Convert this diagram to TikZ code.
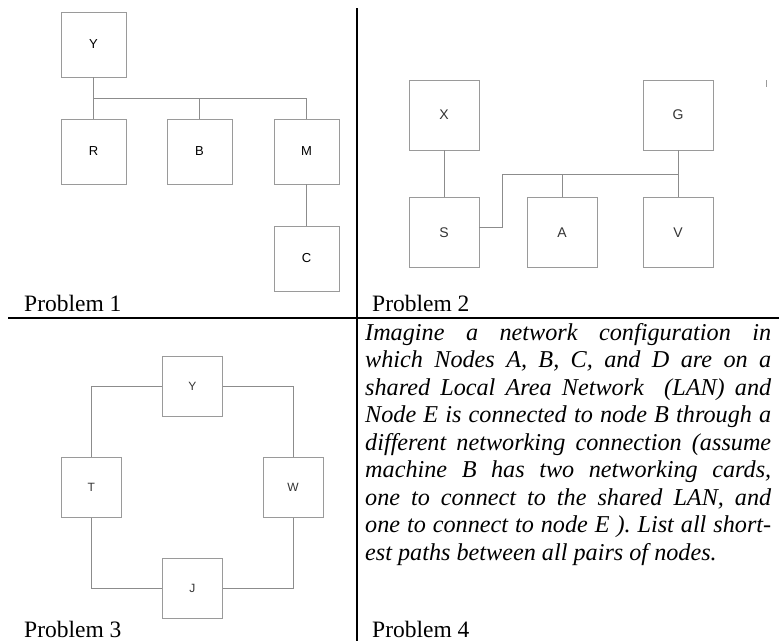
\documentclass[tikz,border=0pt]{standalone}
\usepackage{fontspec}
\setmainfont{Liberation Serif}
\newfontfamily\arialfont{Liberation Sans}
\usetikzlibrary{calc}
\definecolor{boxgray}{HTML}{9A9A9A}
\definecolor{linegray}{HTML}{8C8C8C}
\definecolor{lblgray}{HTML}{333333}
\newcommand{\jline}[1]{\hbox to 406pt{#1}}
\tikzset{
  netbox/.style={draw=boxgray, line width=0.9pt, minimum width=#1, minimum height=#1, inner sep=0pt},
  lblA/.style={font=\arialfont\fontsize{13}{13}\selectfont, text=black},
  lblB/.style={font=\arialfont\fontsize{14}{14}\selectfont, text=lblgray},
  lblC/.style={font=\arialfont\fontsize{12}{12}\selectfont, text=lblgray},
  wire/.style={draw=linegray, line width=0.9pt},
  divider/.style={draw=black, line width=2.5pt},
  ptitle/.style={anchor=base west, inner sep=0pt, font=\fontsize{23.5}{28}\selectfont}
}
\begin{document}
\begin{tikzpicture}[x=1pt, y=-1pt]
\useasboundingbox (0,0) rectangle (779,641);
% dividers
\coordinate (vtop) at (357,8);
\coordinate (vbot) at (357,641);
\coordinate (hl) at (8,318);
\coordinate (hr) at (779,318);
\draw[divider] (vtop) -- (vbot);
\draw[divider] (hl) -- (hr);

% Problem 1
\node[netbox=65pt, lblA] (p1Y) at (93.5,44.5) {Y};
\node[netbox=65pt, lblA] (p1R) at (93.5,151.5) {R};
\node[netbox=65pt, lblA] (p1B) at (199.5,151.5) {B};
\node[netbox=65pt, lblA] (p1M) at (306.5,151.5) {M};
\node[netbox=65pt, lblA] (p1C) at (306.5,258.5) {C};
\coordinate (bus1L) at (93.5,98.5);
\coordinate (bus1R) at (306.5,98.5);
\draw[wire] (p1Y.south) -- (p1R.north);
\draw[wire] (bus1L) -- (bus1R);
\draw[wire] (p1B.north) -- (p1B.north |- bus1L);
\draw[wire] (p1M.north) -- (p1M.north |- bus1L);
\draw[wire] (p1M.south) -- (p1C.north);

% Problem 2
\node[netbox=70pt, lblB] (p2X) at (444,115) {\raisebox{-5pt}{X}};
\node[netbox=70pt, lblB] (p2G) at (678,115) {\raisebox{-3pt}{G}};
\node[netbox=70pt, lblB] (p2S) at (444,232.5) {S};
\node[netbox=70pt, lblB] (p2A) at (562,232.5) {A};
\node[netbox=70pt, lblB] (p2V) at (678,232.5) {V};
\coordinate (bus2L) at (502.3,174);
\coordinate (bus2R) at (678,174);
\draw[wire] (p2X.south) -- (p2S.north);
\draw[wire] ([yshift=5pt]p2S.east) -| (bus2L) -- (bus2R);
\draw[wire] (p2A.north) -- (p2A.north |- bus2L);
\draw[wire] (p2G.south) -- (p2V.north);
\coordinate (tickA) at (766.7,80);
\coordinate (tickB) at (766.7,87);
\draw[draw=boxgray, line width=0.7pt] (tickA) -- (tickB);

% Problem 3
\node[netbox=60pt, lblC] (p3Y) at (192.3,386.7) {Y};
\node[netbox=60pt, lblC] (p3T) at (91.3,487.3) {T};
\node[netbox=60pt, lblC] (p3W) at (293,487.3) {W};
\node[netbox=60pt, lblC] (p3J) at (192.3,588.3) {J};
\draw[wire] (p3Y.west) -| (p3T.north);
\draw[wire] (p3Y.east) -| (p3W.north);
\draw[wire] (p3T.south) |- (p3J.west);
\draw[wire] (p3W.south) |- (p3J.east);

% titles
\node[ptitle] (t1) at (24,311) {Problem 1};
\node[ptitle] (t2) at (372,311) {Problem 2};
\node[ptitle] (t3) at (24,637) {Problem 3};
\node[ptitle] (t4) at (372,637) {Problem 4};

% Problem 4 text
\node[anchor=base west, inner sep=0pt] (p4text) at (365,340) {%
\begin{minipage}[t]{406pt}\fontsize{24.2}{27.5}\selectfont\itshape\frenchspacing
\jline{Imagine a network configuration in}
\jline{which Nodes A, B, C, and D are on a}
\jline{shared Local Area Network\ \ (LAN) and}
\jline{Node E is connected to node B through a}
\jline{different networking connection (assume}
\jline{machine B has two networking cards,}
\jline{one to connect to the shared LAN, and}
\jline{one to connect to node E ). List all short-}
\hbox{est paths between all pairs of nodes.}
\end{minipage}};
\end{tikzpicture}
\end{document}
